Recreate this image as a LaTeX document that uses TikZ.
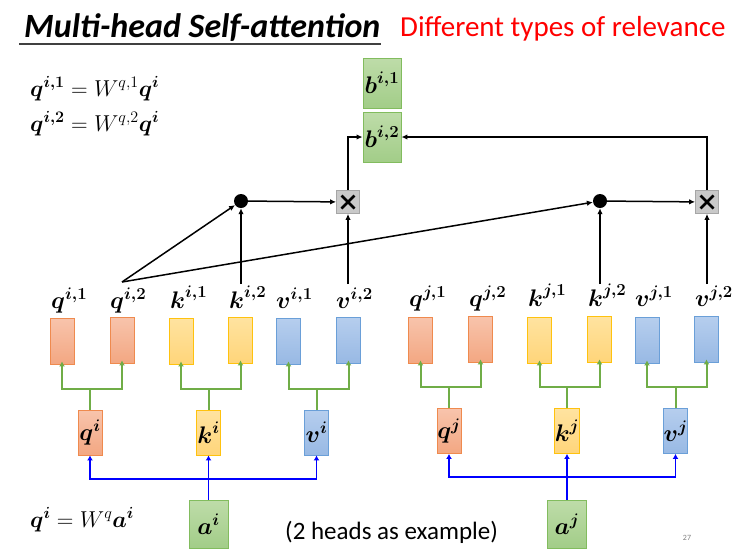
\documentclass[tikz,border=0pt]{standalone}
\usepackage{fix-cm}
\usepackage{amsmath}
\usepackage{fontspec}
\newfontfamily\calibri{Carlito}
\usetikzlibrary{arrows.meta}
\definecolor{orB}{HTML}{EF8A4E}
\definecolor{orT}{HTML}{F8C4AC}
\definecolor{orD}{HTML}{F3A782}
\definecolor{yeB}{HTML}{FFC20E}
\definecolor{yeT}{HTML}{FFE3A0}
\definecolor{yeD}{HTML}{FFD57A}
\definecolor{blB}{HTML}{6A9FD8}
\definecolor{blT}{HTML}{B6CEEE}
\definecolor{blD}{HTML}{98B9E4}
\definecolor{grB}{HTML}{82BC5E}
\definecolor{grT}{HTML}{BEDCA9}
\definecolor{grD}{HTML}{A2CD88}
\definecolor{grA}{HTML}{70AD47}
\definecolor{xgB}{HTML}{A6A6A6}
\definecolor{xgF}{HTML}{C9C9C9}
\newcommand{\bv}[1]{\boldsymbol{#1}}
\begin{document}
\begin{tikzpicture}[x=1pt,y=-1pt,
  vec/.style={inner sep=0pt, minimum width=24pt, line width=0.9pt, font=\fontsize{24}{27}\selectfont},
  small/.style={vec, minimum height=46pt},
  mid/.style={vec, minimum height=45pt},
  obox/.style={draw=orB, top color=orT, bottom color=orD},
  ybox/.style={draw=yeB, top color=yeT, bottom color=yeD},
  bbox/.style={draw=blB, top color=blT, bottom color=blD},
  gbox/.style={vec, draw=grB, top color=grT, bottom color=grD},
  lbl/.style={anchor=base west, inner sep=0pt, font=\fontsize{24}{27}\selectfont},
  eq/.style={anchor=base west, inner sep=0pt, font=\fontsize{23}{26}\selectfont},
  dotn/.style={circle, fill=black, inner sep=0pt, minimum size=14pt},
  xbox/.style={draw=xgB, fill=xgF, inner sep=0pt, minimum size=23pt, line width=0.8pt},
  xmark/.style={line width=2.6pt, black},
  garr/.style={draw=grA, line width=2pt, -{Latex[length=5pt,width=6pt]}},
  gln/.style={draw=grA, line width=2pt},
  barr/.style={draw=blue, line width=1.9pt, -{Latex[length=5pt,width=6pt]}},
  karr/.style={draw=black, line width=1.5pt, -{Latex[length=6pt,width=5.5pt]}},
]
\useasboundingbox (0,0) rectangle (739,550);

% title
\node[anchor=base west, inner sep=0pt, font=\calibri\bfseries\itshape\fontsize{34}{36}\selectfont] (title) at (24,37) {Multi-head Self-attention};
\coordinate (ul1) at (19,44);
\coordinate (ul2) at (381,44);
\draw[line width=1.4pt, black!75] (ul1) -- (ul2);
\node[anchor=base west, inner sep=0pt, text=red, font=\calibri\fontsize{29}{32}\selectfont] (sub) at (400,36) {Different types of relevance};

% equations
\node[eq] (eq1) at (30,96) {$\bv{q}^{\bv{i,1}} = W^{q,1}\bv{q}^{\bv{i}}$};
\node[eq] (eq2) at (30,131) {$\bv{q}^{\bv{i,2}} = W^{q,2}\bv{q}^{\bv{i}}$};
\node[eq] (eq3) at (30,527) {$\bv{q}^{\bv{i}} = W^{q}\bv{a}^{\bv{i}}$};
\node[anchor=base west, inner sep=0pt, font=\calibri\fontsize{25}{28}\selectfont] (note) at (285,539) {(2 heads as example)};
\node[inner sep=0pt, text=black!50, font=\calibri\fontsize{8}{9}\selectfont] (pg) at (687,538) {27};

% outputs
\node[gbox, minimum width=38pt, minimum height=50pt] (b1) at (382,83) {$\bv{b}^{\bv{i,1}}$};
\node[gbox, minimum width=38pt, minimum height=50pt] (b2) at (382,137) {$\bv{b}^{\bv{i,2}}$};

% inputs
\node[gbox, minimum width=39pt, minimum height=48pt] (ai) at (208.5,524) {$\bv{a}^{\bv{i}}$};
\node[gbox, minimum width=39pt, minimum height=48pt] (aj) at (567,524) {$\bv{a}^{\bv{j}}$};

% mid boxes
\node[mid, obox] (qi) at (90,432.5) {$\bv{q}^{\bv{i}}$};
\node[mid, ybox] (ki) at (208.5,432.5) {$\bv{k}^{\bv{i}}$};
\node[mid, bbox] (vi) at (316.5,432.5) {$\bv{v}^{\bv{i}}$};
\node[mid, obox] (qj) at (449,431) {$\bv{q}^{\bv{j}}$};
\node[mid, ybox] (kj) at (567,431) {$\bv{k}^{\bv{j}}$};
\node[mid, bbox] (vj) at (675.5,431) {$\bv{v}^{\bv{j}}$};

% small boxes
\node[small, obox] (qi1) at (62,341) {};
\node[small, obox] (qi2) at (122,340) {};
\node[small, ybox] (ki1) at (181,341) {};
\node[small, ybox] (ki2) at (240.5,340) {};
\node[small, bbox] (vi1) at (288.5,341) {};
\node[small, bbox] (vi2) at (348.5,340) {};
\node[small, obox] (qj1) at (420.5,340) {};
\node[small, obox] (qj2) at (480.5,339) {};
\node[small, ybox] (kj1) at (539.5,340) {};
\node[small, ybox] (kj2) at (599.5,339) {};
\node[small, bbox] (vj1) at (647,340) {};
\node[small, bbox] (vj2) at (706.5,339) {};

% labels
\node[lbl] (lqi1) at (51,308) {$\bv{q}^{\bv{i,1}}$};
\node[lbl] (lqi2) at (110,308) {$\bv{q}^{\bv{i,2}}$};
\node[lbl] (lki1) at (170,308) {$\bv{k}^{\bv{i,1}}$};
\node[lbl] (lki2) at (229,308) {$\bv{k}^{\bv{i,2}}$};
\node[lbl] (lvi1) at (276,308) {$\bv{v}^{\bv{i,1}}$};
\node[lbl] (lvi2) at (336,308) {$\bv{v}^{\bv{i,2}}$};
\node[lbl] (lqj1) at (409,306) {$\bv{q}^{\bv{j,1}}$};
\node[lbl] (lqj2) at (469,306) {$\bv{q}^{\bv{j,2}}$};
\node[lbl] (lkj1) at (528,306) {$\bv{k}^{\bv{j,1}}$};
\node[lbl] (lkj2) at (588,306) {$\bv{k}^{\bv{j,2}}$};
\node[lbl] (lvj1) at (635,306) {$\bv{v}^{\bv{j,1}}$};
\node[lbl] (lvj2) at (695,306) {$\bv{v}^{\bv{j,2}}$};

% attention nodes
\node[dotn] (d1) at (241,201) {};
\node[xbox] (x1) at (348,202) {};
\node[dotn] (d2) at (600,201) {};
\node[xbox] (x2) at (707,202) {};
\foreach \n in {x1,x2}{
  \draw[xmark] ([shift={(-6.5,-6.5)}]\n.center) -- ([shift={(6.5,6.5)}]\n.center);
  \draw[xmark] ([shift={(-6.5,6.5)}]\n.center) -- ([shift={(6.5,-6.5)}]\n.center);
}

% start coordinates above labels
\coordinate (sq) at (122,282);
\coordinate (ski) at (241,284);
\coordinate (svi) at (348,284);
\coordinate (skj) at (600,284);
\coordinate (svj) at (707,284);

\draw[karr] (sq) -- (d1);
\draw[karr] (sq) -- (d2);
\draw[karr] (ski) -- (d1);
\draw[karr] (svi) -- (x1);
\draw[karr] (skj) -- (d2);
\draw[karr] (svj) -- (x2);
\draw[karr] (d1) -- (x1);
\draw[karr] (d2) -- (x2);
\draw[karr] (x1.north) |- (b2.west);
\draw[karr] (x2.north) |- (b2.east);

% green splits
\foreach \m/\l/\r/\y in {qi/qi1/qi2/389, ki/ki1/ki2/389, vi/vi1/vi2/389, qj/qj1/qj2/387, kj/kj1/kj2/387, vj/vj1/vj2/387}{
  \coordinate (\m h) at (\m.north |- 0,\y);
  \draw[gln] (\m.north) -- (\m h);
  \draw[garr] (\m h) -| ([yshift=3pt]\l.south);
  \draw[garr] (\m h) -| ([yshift=3pt]\r.south);
}

% blue splits
\coordinate (bhi) at (ai.north |- 0,479);
\draw[barr] (ai.north) -- (ki.south);
\draw[barr] (bhi) -| (qi.south);
\draw[barr] (bhi) -| (vi.south);
\coordinate (bhj) at (aj.north |- 0,477);
\draw[barr] (aj.north) -- (kj.south);
\draw[barr] (bhj) -| (qj.south);
\draw[barr] (bhj) -| (vj.south);
\end{tikzpicture}
\end{document}
